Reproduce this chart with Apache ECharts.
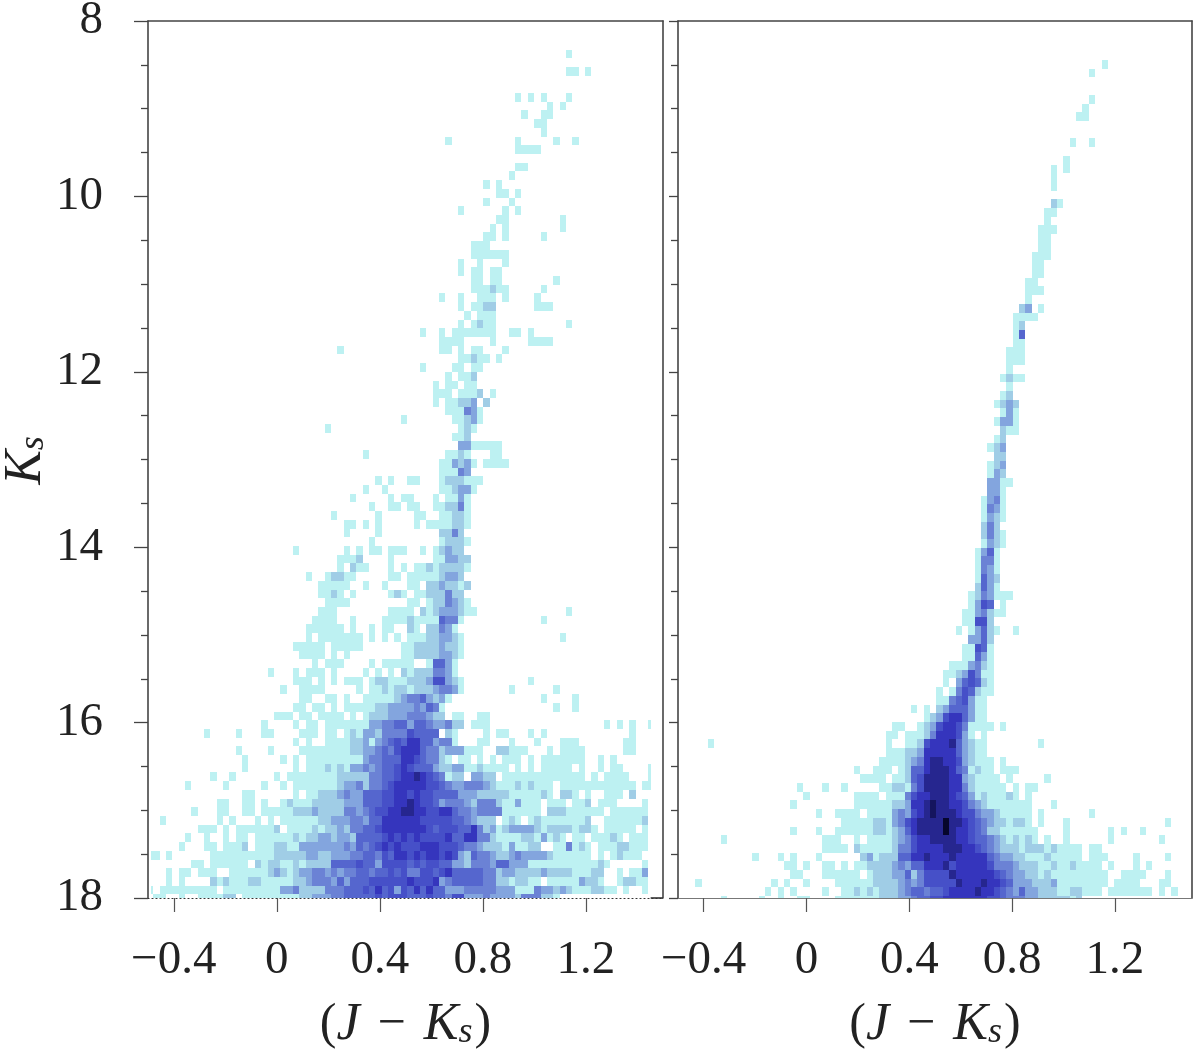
<!DOCTYPE html>
<html><head><meta charset="utf-8"><style>html,body{margin:0;padding:0;background:#fff}#c{width:1200px;height:1055px}</style>
<script src="https://cdn.jsdelivr.net/npm/echarts@6/dist/echarts.min.js"></script></head><body><div id="c"></div>
<script>
// Colour-magnitude density levels, one string per Ks bin: "firstColumn:levels" (levels 1..9,a; hex digit)
const leftRows = [
"","","","",
"65:1","",
"65:11 68:1","","",
"57:1 59:1 61:1 65:1",
"62:1 64:1",
"58:1 61:11",
"60:11",
"61:1",
"46:1 57:1 63:1 66:1",
"57:1111","",
"57:11",
"56:1",
"52:1 54:1",
"54:11 57:1",
"52:1 56:1",
"48:1 55:1 57:1",
"54:11 64:1",
"53:1 55:1 64:1",
"52:11 55:1 61:1",
"50:111",
"50:111111",
"48:1 51:1 55:1",
"48:1 50:11 53:11",
"50:11 53:11 63:1",
"50:111211 61:1",
"45:1 48:1 51:111 55:1 60:1",
"48:1 50:1122 60:111",
"49:1 51:111",
"48:1 50:1211 65:1",
"42:1 45:1 47:1111111 56:11 59:1",
"45:1111 53:1 59:1111",
"29:1 45:11 48:1 50:11 55:1",
"48:11211 54:1",
"42:1 47:11 50:11",
"46:1 48:112",
"44:1 46:11 49:11",
"44:111 48:1112 53:1",
"44:1 46:11 48:223 52:2",
"46:111 49:431",
"39:1 47:11 49:231",
"27:1 48:121",
"47:112",
"48:33 50:11111",
"33:1 46:1121 53:11",
"45:113231 52:1111",
"45:11143",
"35:1 37:1 40:11 45:1222111",
"33:1 36:1 45:112331",
"31:1 37:1 39:11 44:1 46:1131",
"34:1 37:11 40:11 44:11 46:2241",
"28:1 35:1 41:11 45:11221",
"30:11 33:1 35:1 41:1 43:1111221",
"30:1 35:1 45:2242",
"34:1 45:12221",
"22:1 30:1 32:1 34:11 37:111 42:1 44:12322",
"29:1112 37:1 44:113322",
"29:1 31:211 37:1 39:1 41:112122221",
"24:1 27:12211 37:11 40:111112332",
"26:11111 33:1 36:1 40:11 43:2232212",
"26:1121 31:1 37:121 41:11 43:222422",
"27:1111 40:11 43:1224321",
"26:111 37:1111 42:212333211 65:1",
"25:1111 31:1 36:11112 41:11115441 61:1",
"24:111111 31:1 34:1 36:11 40:21 43:22431",
"24:1 26:1111111 34:1 36:1 38:1 40:111223321 64:1",
"22:11111 28:11111 39:1122223221",
"23:1111 28:1 30:1 39:1122223321",
"25:1 27:111 34:1 36:11111 43:15531",
"18:1 22:1 24:111 28:1 33:1 35:1 37:1 39:212224431",
"22:111 26:1 28:1 30:11 32:1 34:122111222366321 59:1",
"20:1 23:1111 32:1 34:112122122234431 56:1 63:1",
"23:11 27:11 30:1 33:11111234453231 61:1 66:1",
"22:11 25:11 28:1 30:1111122333343541 63:1 66:1",
"19:111 23:11 26:1111 31:1 33:1222333444322 47:11 51:11",
"17:1 22:1 24:11 27:1111111334455355433422 50:111 71:1 73:1 75:1 78:1",
"8:1 13:1 17:11 23:111 27:11 30:121332444465555 46:21 52:1 54:11 59:1 61:1 75:1",
"22:1 24:1 27:111122313456577553441 51:11 56:1 60:1 64:111 74:11",
"13:1 18:1 23:11111111223345467775442333111 54:22111 62:1 64:111 67:1 74:11",
"14:1 20:1 22:1 24:11111111134455577654421 48:11 51:1 53:1 55:111 59:1 61:111111 67:1 70:1 72:1",
"14:1 22:1 24:11121213343455676555322331121111 57:1 59:1 61:11111 67:1 70:1 72:11 78:1",
"9:1 12:1 19:1 21:1111111122222445567787654122 50:3322 55:1111111111111 69:1 71:1111 78:1",
"5:1 11:1 17:1 20:1 22:11111112334244567777766543344432111212111 64:111111111111 77:11",
"14:11 22:1 24:112223433555667767665555333222221111121 64:221 68:1 71:111 75:2",
"10:11 14:11 17:1 20:12111222223335556677876653444324442113111 62:111 66:112 70:111 77:1",
"6:1 10:11 14:11 17:11111222322224434566778877667754434444111111 62:222111111 72:111111",
"1:1 10:1 12:1 16:1 18:1 20:1111112233344355777777666665543222 55:121 59:1211111112 71:1111112",
"7:111 11:1 13:1111112 21:1111212232445567777777656665574231233332122221221 71:11111 77:1",
"5:1 8:1 11:1 13:11 16:1111112122332332555567676766667557744211112213121 66:11 69:11121 75:111",
"4:1 8:11 11:111 14:2 16:111221133333334354567676667776665443222131122 63:114121 70:11122111",
"-1:11 2:1 9:111111111122222332233344554657767677676325443223433332111111 70:1 72:12111",
"6:11 9:111111 16:21221121222255556553666656566553324443553331111111111121 77:1",
"2:1 4:11 7:111 12:11111123212334434344554556564466567555554423322223222211122 73:1 75:113",
"2:1 4:1 9:2121112211111223444353555666666766673455555442212211 62:111113221 73:12211",
"-1:1 1:11111111 9:1 11:11111111133422224445556575636575755333444443331114332321112211 74:1 77:1",
"0:11 4:1 7:1111 11:22 14:111111 20:11122333445555565666555655466333433332444221"
];
const rightRows = [
"","","","","",
"67:1",
"65:1","","",
"65:1",
"64:1",
"63:11","","",
"62:1 65:1","",
"61:1",
"59:1 61:1",
"59:1",
"59:1","",
"59:21",
"58:11",
"58:1",
"57:111",
"57:11",
"57:11",
"56:111",
"56:11",
"56:11",
"55:11",
"55:111",
"55:1",
"54:23 57:1",
"53:1111",
"53:12",
"53:15",
"53:11",
"52:111",
"52:111",
"52:1",
"51:1211",
"52:1",
"51:12",
"50:1232",
"51:131",
"50:1331",
"51:211",
"50:12",
"49:123",
"50:22",
"49:123",
"49:132",
"49:3311",
"49:331",
"48:1341",
"48:1431",
"48:1321",
"48:242",
"48:2421",
"48:1321",
"47:1351",
"47:1441",
"47:1431",
"47:1532",
"47:2531",
"46:1243111",
"46:1365 51:1",
"45:1134211",
"45:11662",
"44:1 46:13521 53:1",
"46:3352",
"45:11651",
"45:11531",
"43:1113421",
"42:11 44:236411",
"42:1 44:356521",
"41:1 43:1465211",
"41:11456311",
"37:1 39:1 41:23555311",
"39:1236775311",
"34:11 38:123677641111 51:1",
"33:11 36:11124777631 48:1",
"5:1 33:1 36:1126777853211 57:1",
"33:1112237777753211",
"32:111123478877632111 51:1",
"28:1 31:111 35:125578887541211 51:111",
"29:1 30:111 34:11256888877321111 52:1 58:1",
"19:1 23:1 26:1 32:11221468888774211111 53:1 55:11",
"20:1 28:1111 33:111467788876531211121 55:1",
"18:1 28:111111 34:2237789887764321111111 59:1",
"22:1 25:1111 30:1111 34:3436789888766433211111 57:1 65:1",
"26:1111122134678888a8876543221221 57:1 61:1 77:1",
"18:1 22:1 25:11111122123578888a87765422111111 61:1 68:1 70:1 73:1",
"7:1 23:111 28:1 30:111123467788887765543212121 58:1 61:1 68:1 76:1",
"23:1111 28:211111244677778887765432221222121111 65:11",
"12:1 16:1 18:1 22:1 29:23122255778777877777543322111211111 65:111 72:1 77:1",
"17:11 20:1 23:11 26:1 28:1 29:12222343557778677777644432221121121111 68:1 72:1 74:1",
"18:11 23:111111 30:122233524666687777776543322121 60:11111111 70:1111 77:1",
"3:1 15:1 17:1 20:1 25:111111 31:22223434666668777877653332223 60:11111111 69:1111 76:11",
"14:1 16:1 18:1 23:1 26:11212122234554556777787765435332221122111 68:11 70:11111 76:1 78:1",
"7:1 13:1 16:1 19:11 25:1111111222334556677777776654443322222 62:12"
];
const levelColors = ["#ffffff","#bdf1f2","#a0cde6","#83a5de","#6b82d5","#5566ce","#4650c8","#3535bd","#26268f","#15155e","#06062c"];
const xTickValues = [-0.4, 0, 0.4, 0.8, 1.2];
const yRange = [8, 18];
const xRange = [-0.5, 1.5];
const dataLimits = [-0.488, 1.452];

const leftBins  = {x0: -0.4798, dx: 0.02466, y0: 7.928, dy: 0.09932};
const rightBins = {x0: -0.507,  dx: 0.0247,  y0: 7.948, dy: 0.09932};

function cells(rows, bins) {
  const out = [];
  rows.forEach((row, k) => {
    if (!row) return;
    row.split(" ").forEach(part => {
      const [start, levels] = part.split(":");
      [...levels].forEach((ch, i) => {
        const c = parseInt(start, 10) + i;
        out.push([bins.x0 + c * bins.dx, bins.y0 + k * bins.dy, parseInt(ch, 16)]);
      });
    });
  });
  return out;
}

function renderCell(bins) {
  return function (params, api) {
    const x = Math.max(api.value(0), dataLimits[0]);
    const xEnd = Math.min(api.value(0) + bins.dx, dataLimits[1]);
    const y = Math.max(api.value(1), yRange[0]);
    const yEnd = Math.min(api.value(1) + bins.dy, yRange[1]);
    if (xEnd <= x || yEnd <= y) return null;
    const a = api.coord([x, y]), b = api.coord([xEnd, yEnd]);
    const X = Math.round(a[0]), Y = Math.round(a[1]);
    return {type: "rect", silent: true,
      shape: {x: X, y: Y, width: Math.round(b[0]) - X, height: Math.round(b[1]) - Y},
      style: {fill: levelColors[api.value(2)]}};
  };
}

const serif = '"Liberation Serif","DejaVu Serif",serif';
const ink = "#222";
const frame = {color: "#444", width: 1.6};
const labelFmt = v => String(v).replace("-", "\u2212");
const nameRich = {
  p: {fontFamily: serif, fontSize: 50, color: ink},
  m: {fontFamily: serif, fontSize: 50, color: ink, padding: [0, 18, 0, 18]},
  i: {fontFamily: serif, fontSize: 52, fontStyle: "italic", color: ink},
  s: {fontFamily: serif, fontSize: 36, fontStyle: "italic", color: ink, padding: [16, 2, 0, 0]}
};

function mainX(grid, dotted) {
  return {type: "value", gridIndex: grid, min: xRange[0], max: xRange[1], position: "bottom",
    name: "{p|(}{i|J}{m|\u2212}{i|K}{s|s}{p|)}", nameLocation: "middle", nameGap: 101,
    nameTextStyle: {rich: nameRich},
    axisLine: {show: true, onZero: false, lineStyle: dotted ? {color: "#333", width: 1.2, type: [1, 3]} : {color: "#777", width: 1.2}},
    axisTick: {show: true, length: 14, inside: false, customValues: xTickValues, lineStyle: {color: "#555", width: 1.2}},
    axisLabel: {show: true, margin: 39, fontFamily: serif, fontSize: 47, color: ink, customValues: xTickValues, formatter: labelFmt},
    splitLine: {show: false}, minorTick: {show: false}};
}
function topX(grid) {
  return {type: "value", gridIndex: grid, min: xRange[0], max: xRange[1], position: "top",
    axisLine: {show: true, onZero: false, lineStyle: frame}, axisTick: {show: false}, axisLabel: {show: false}, splitLine: {show: false}};
}
function mainY(grid, labels, tickLen, minorLen) {
  return {type: "value", gridIndex: grid, min: yRange[0], max: yRange[1], interval: 2, inverse: true, position: "left",
    name: labels ? "{i|K}{s|s}" : "", nameLocation: "middle", nameRotate: 90, nameGap: 96,
    nameTextStyle: {rich: nameRich},
    axisLine: {show: true, onZero: false, lineStyle: frame},
    axisTick: {show: true, length: tickLen, lineStyle: {color: "#444", width: 1.3}},
    minorTick: {show: true, splitNumber: 4, length: minorLen, lineStyle: {color: "#444", width: 1.3}},
    axisLabel: {show: labels, margin: 45, fontFamily: serif, fontSize: 47, color: ink},
    splitLine: {show: false}, minorSplitLine: {show: false}};
}
function rightY(grid) {
  return {type: "value", gridIndex: grid, min: yRange[0], max: yRange[1], inverse: true, position: "right",
    axisLine: {show: true, onZero: false, lineStyle: frame}, axisTick: {show: false}, axisLabel: {show: false}, splitLine: {show: false}};
}

function panel(name, rows, bins, axisIdx) {
  return {name, type: "custom", coordinateSystem: "cartesian2d", xAxisIndex: axisIdx, yAxisIndex: axisIdx,
    renderItem: renderCell(bins), data: cells(rows, bins), encode: {x: 0, y: 1}, clip: true, animation: false, silent: true};
}

const chart = echarts.init(document.getElementById("c"), null, {renderer: "canvas"});
chart.setOption({
  animation: false,
  backgroundColor: "#fff",
  tooltip: {show: false},
  grid: [
    {left: 148, top: 21, width: 515, height: 877, containLabel: false, outerBoundsMode: "none"},
    {left: 678, top: 21, width: 514, height: 877, containLabel: false, outerBoundsMode: "none"}
  ],
  xAxis: [mainX(0, true), mainX(1, false), topX(0), topX(1)],
  yAxis: [mainY(0, true, 14, 7), mainY(1, false, 9, 7), rightY(0), rightY(1)],
  series: [
    panel("left", leftRows, leftBins, 0),
    panel("right", rightRows, rightBins, 1),
    {type: "line", xAxisIndex: 0, yAxisIndex: 0, symbol: "none", clip: false, silent: true,
      data: [[dataLimits[1], yRange[1]], [xRange[1], yRange[1]]], lineStyle: {color: "#333", width: 1.6}}
  ]
});
</script></body></html>
